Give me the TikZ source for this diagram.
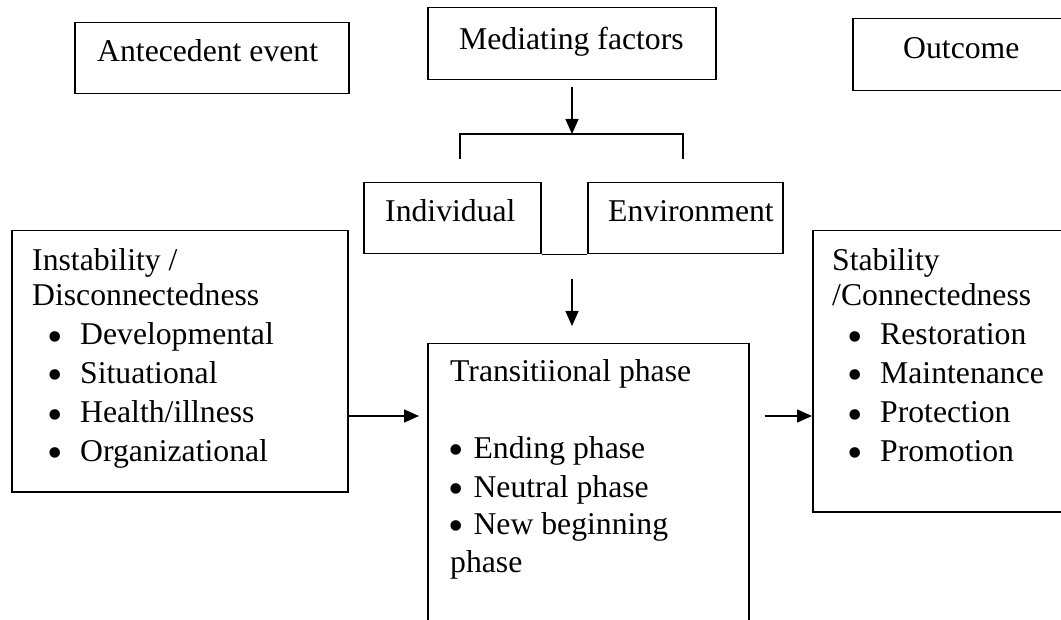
\documentclass[tikz,border=0pt]{standalone}
\usepackage{fontspec}
\setmainfont{Liberation Serif}
\usetikzlibrary{arrows.meta}
% enlarged bullet glyph, lowered to sit on the x-height, no effect on line height
\newcommand\blt{\smash{\raisebox{-6pt}{\fontsize{44}{0}\selectfont •}}}
\newcommand\bitem[1]{\llap{\blt\hspace*{17pt}}#1}
\begin{document}
\begin{tikzpicture}[x=1pt,y=-1pt,
  box/.style={draw,line width=1.5pt,inner sep=0pt,anchor=north west},
  txt/.style={inner sep=0pt,anchor=base west,font=\fontsize{31.7}{38.5}\selectfont},
  arr/.style={line width=1.5pt,-{Triangle[length=15pt,width=13pt]}},
  conn/.style={line width=1.5pt}]
\useasboundingbox (0,0) rectangle (1061,620);
\fill[white] (0,0) rectangle (1061,620);
\clip (0,0) rectangle (1061,620);

% heading boxes
\node[box,minimum width=274pt,minimum height=71pt] (ante) at (74,22) {};
\node[box,minimum width=288pt,minimum height=72pt] (med) at (427,7) {};
\node[box,minimum width=230pt,minimum height=72pt] (outc) at (852,18) {};
\node[txt] (anteT) at (97,62) {Antecedent event};
\node[txt] (medT) at (459,50) {Mediating factors};
\node[txt] (outcT) at (903,59) {Outcome};

% mediating factors split
\node[box,minimum width=177pt,minimum height=71pt] (indiv) at (363,182) {};
\node[box,minimum width=195pt,minimum height=71pt] (env) at (587,182) {};
\draw[conn] (indiv.south east) -- (env.south west);
\node[txt] (indivT) at (385,222) {Individual};
\node[txt] (envT) at (608,222) {Environment};

\coordinate (brk) at (572,134);
\coordinate (brL) at (460,159);
\coordinate (brR) at (683,159);
\draw[arr] ([yshift=-7pt]med.south -| brk) -- (brk);
\draw[conn] (brL) |- (brk) -| (brR);

% main row
\node[box,minimum width=336pt,minimum height=261pt] (inst) at (11,230) {};
\node[box,minimum width=321pt,minimum height=320pt] (trans) at (427,343) {};
\node[box,minimum width=270pt,minimum height=281pt] (stab) at (812,230) {};

\node[txt] (instT1) at (32,271) {Instability /};
\node[txt] (instT2) at (32,306) {Disconnectedness};
\node[txt] (inst1) at (80,345) {\bitem{Developmental}};
\node[txt] (inst2) at (80,384) {\bitem{Situational}};
\node[txt] (inst3) at (80,423) {\bitem{Health/illness}};
\node[txt] (inst4) at (80,461) {\bitem{Organizational}};

\node[txt] (transT) at (450,382) {Transitiional phase};
\node[txt] (trans1) at (448,458) {\blt\hspace*{10pt}Ending phase};
\node[txt] (trans2) at (448,497) {\blt\hspace*{10pt}Neutral phase};
\node[txt] (trans3) at (448,534) {\blt\hspace*{10pt}New beginning};
\node[txt] (trans4) at (450,572) {phase};

\node[txt] (stabT1) at (832,271) {Stability};
\node[txt] (stabT2) at (832,306) {/Connectedness};
\node[txt] (stab1) at (880,345) {\bitem{Restoration}};
\node[txt] (stab2) at (880,384) {\bitem{Maintenance}};
\node[txt] (stab3) at (880,423) {\bitem{Protection}};
\node[txt] (stab4) at (880,461) {\bitem{Promotion}};

% connectors
\coordinate (lvl) at (0,416);
\draw[arr] ([yshift=-25pt]indiv.south -| brk) -- ([yshift=17pt]trans.north -| brk);
\draw[arr] (inst.east |- lvl) -- ([xshift=-8pt]trans.west |- lvl);
\draw[arr] ([xshift=15pt]trans.east |- lvl) -- (stab.west |- lvl);
\end{tikzpicture}
\end{document}
